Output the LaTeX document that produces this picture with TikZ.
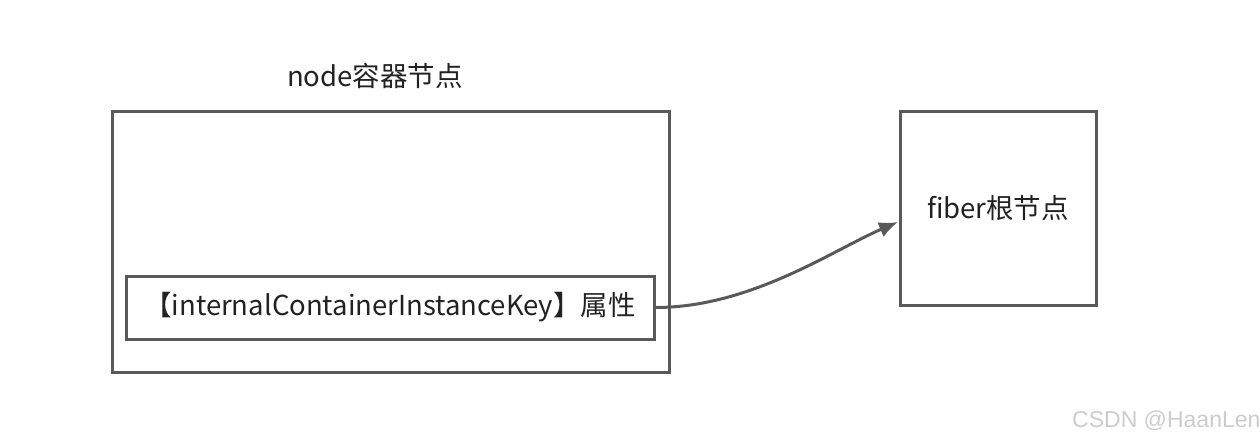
\documentclass[tikz,border=0pt]{standalone}
\usepackage{fontspec}
\setmainfont{Noto Sans CJK SC}
\newfontfamily\wmfont{Liberation Sans}
\usepackage{tikz}
\usetikzlibrary{arrows.meta}
\definecolor{edge}{HTML}{595959}
\definecolor{ink}{HTML}{222222}
\newcommand{\arw}{-{Latex[length=19pt,width=16pt]}}
\tikzset{
  box/.style={draw=edge,line width=3pt,inner sep=0pt},
  lbl/.style={text=ink,font=\fontsize{27.5}{32}\selectfont}
}

\begin{document}
\begin{tikzpicture}[x=1pt,y=-1pt]
\useasboundingbox (0,0) rectangle (1260,442);
%container node
\node[box,minimum width=557pt,minimum height=261pt] (container) at (390.5,241.5) {};
\node[lbl] (title) at (375,76) {node容器节点};
\node[box,lbl,minimum width=528pt,minimum height=63pt] (key) at (390,307.5) {【internalContainerInstanceKey】属性};
%fiber root
\node[box,lbl,minimum width=196pt,minimum height=194pt] (fiber) at (998,208) {fiber根节点};
\coordinate (tip) at (898,222);
\draw[edge,line width=3pt,\arw] (key.east) .. controls +(95,0) and +(-65,28) .. (tip);
%watermark
\node[anchor=west,text=black!20,font=\wmfont\fontsize{23}{27}\selectfont,inner sep=0pt] (mark) at (1072,421) {CSDN @HaanLen};
\end{tikzpicture}
\end{document}
